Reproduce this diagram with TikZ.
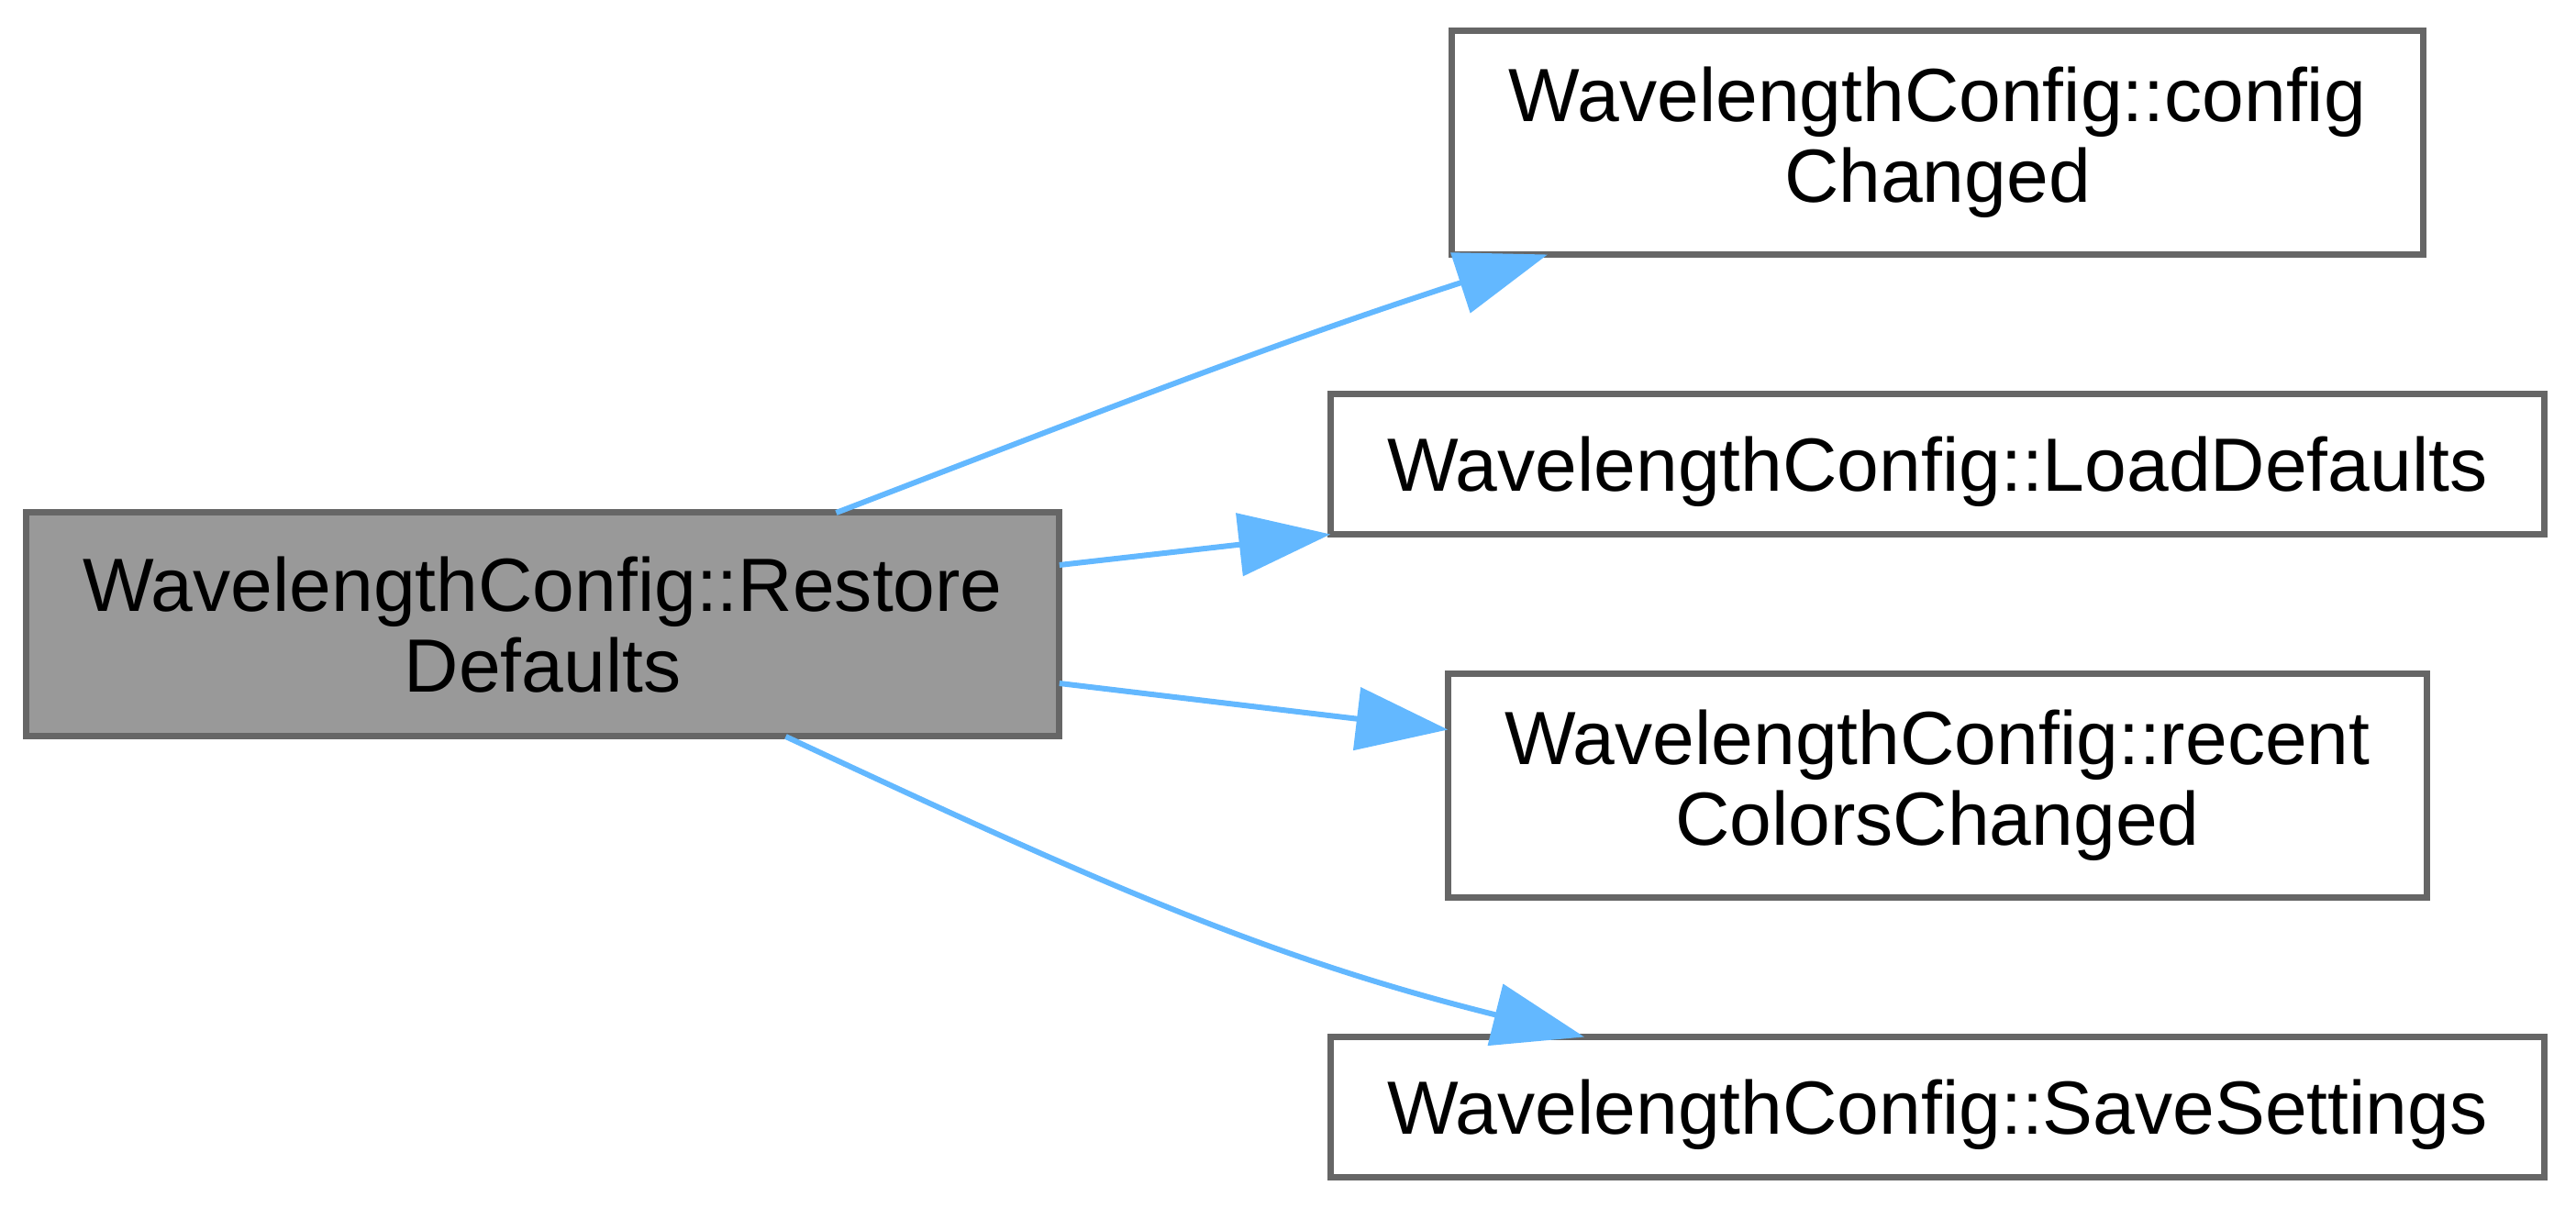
\documentclass[tikz,border=0pt]{standalone}
\usepackage{fontspec}
\setmainfont{Liberation Sans}
\usepackage{tikz}
\usetikzlibrary{positioning,arrows.meta}

\definecolor{edgeblue}{HTML}{63B8FF}
\definecolor{boxline}{HTML}{666666}
\definecolor{boxfill}{HTML}{999999}

\tikzset{
  fn/.style={draw=boxline, line width=0.07cm, rectangle, align=center, outer sep=0pt,
    inner xsep=0.62cm, inner ysep=0pt, font=\fontsize{23.4}{25}\selectfont},
  fnone/.style={fn, minimum height=1.53cm, text depth=0pt},
  fntwo/.style={fn, minimum height=2.44cm},
  call/.style={-{Triangle[length=1cm,width=0.68cm]}, draw=edgeblue, line width=0.06cm}
}

\begin{document}
\begin{tikzpicture}
              \useasboundingbox (0,0) rectangle (28.08,-13.17);
              \node[fntwo, fill=boxfill] (main) at (5.915,-6.81) {WavelengthConfig::Restore\\Defaults};
              \node[fntwo] (cc) at (21.12,-1.555) {WavelengthConfig::config\\Changed};
              \node[fnone, below=1.52cm of cc] (ld) {WavelengthConfig::LoadDefaults};
              \node[fntwo, below=1.52cm of ld] (rc) {WavelengthConfig::recent\\ColorsChanged};
              \node[fnone, below=1.52cm of rc] (ss) {WavelengthConfig::SaveSettings};

              %main>callees
              \draw[call] ([xshift=3.2cm]main.north) to[out=21,in=198] ([xshift=-4.25cm]cc.south);
              \draw[call] ([yshift=0.65cm]main.east) -- (ld.south west);
              \draw[call] ([yshift=-0.64cm]main.east) -- ([yshift=0.61cm]rc.west);
              \draw[call] ([xshift=2.65cm]main.south) to[out=-25,in=166] ([xshift=-3.85cm]ss.north);
            \end{tikzpicture}
\end{document}
